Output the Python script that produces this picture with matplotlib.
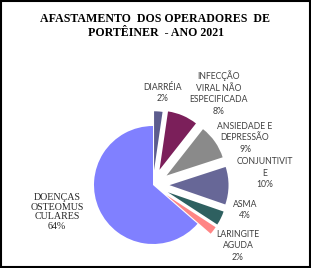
import matplotlib
matplotlib.use("Agg")
import matplotlib.pyplot as plt
from matplotlib.patches import Rectangle

# data, clockwise from 12 o'clock (percent)
categories = ["DIARRÉIA", "INFECÇÃO\nVIRAL NÃO\nESPECIFICADA", "ANSIEDADE E\nDEPRESSÃO",
              "CONJUNTIVIT\nE", "ASMA", "LARINGITE\nAGUDA", "DOENÇAS\nOSTEOMUS\nCULARES"]
values = [2.3, 8.3, 9.4, 10.3, 3.9, 2.2, 63.6]
colors = ["#5c5c8e", "#7b1f5a", "#8a8a8a", "#676797", "#2e6060", "#ff8585", "#8080ff"]
explode = [0.25, 0.28, 0.28, 0.28, 0.28, 0.28, 0.0]

W, H = 311, 268
cx, cy, R = 153, 185, 59   # pie centre / radius in pixels (from top-left)

fig = plt.figure(figsize=(W / 100, H / 100), dpi=100)
ax = fig.add_axes([0, 0, 1, 1])
ax.pie(values, colors=colors, explode=explode, startangle=90, counterclock=False,
       radius=1.0, wedgeprops=dict(linewidth=0))
ax.set_xlim(-cx / R, (W - cx) / R)
ax.set_ylim(-(H - cy) / R, cy / R)
ax.set_aspect("auto")
ax.axis("off")


def px(x, y):
    return (x - cx) / R, (cy - y) / R


# label positions in pixels (centre of text block)
label_pos = [(163, 93), (219, 93), (245, 138), (265, 173), (245, 210), (238, 246), (57, 212)]
for i, (name, v) in enumerate(zip(categories, values)):
    x, y = px(*label_pos[i])
    if i == 6:
        ax.text(x, y, f"{name}\n{round(v)}%", ha="center", va="center", fontsize=7.2,
                family="Liberation Serif", color="#262626", linespacing=1.05)
    else:
        ax.text(x, y, f"{name}\n{round(v)}%", ha="center", va="center", fontsize=6.2,
                family="Lato", color="#404040", linespacing=1.35)

fig.text(0.5, 1 - 26 / H, "AFASTAMENTO  DOS OPERADORES  DE\nPORTÊINER  - ANO 2021",
         ha="center", va="center", fontsize=8.6, fontweight="bold",
         family="Liberation Serif", linespacing=1.15)

fig.patches.append(Rectangle((0.003, 0.003), 0.994, 0.994, transform=fig.transFigure,
                             fill=False, edgecolor="black", linewidth=1.5))

fig.savefig("out.png", dpi=100)
